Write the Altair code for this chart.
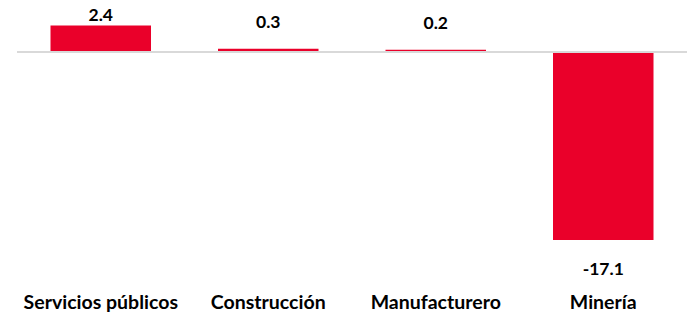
import altair as alt
import pandas as pd

categories = ["Servicios públicos", "Construcción", "Manufacturero", "Minería"]
values = [2.4, 0.3, 0.2, -17.1]

df = pd.DataFrame({"cat": categories, "v": values})
df["lab"] = [f"{v:.1f}" for v in values]

RED = "#EA002A"
FONT = "Lato"
FS = 17.5

xscale = alt.Scale(paddingInner=0.4, paddingOuter=0.2)
yscale = alt.Scale(domain=[-17.1, 3.73], nice=False)

x = alt.X("cat:N", sort=categories, title=None, scale=xscale,
          axis=alt.Axis(domain=False, ticks=False, labelAngle=0, labelFont=FONT,
                        labelFontSize=19.5, labelFontWeight="bold", labelColor="#000000",
                        labelPadding=62, labelBaseline="middle"))
y = alt.Y("v:Q", title=None, scale=yscale, axis=None)

base = alt.Chart(df)

bars = base.mark_bar(color=RED).encode(x=x, y=y)

zero = alt.Chart(pd.DataFrame({"z": [0]})).mark_rule(color="#D9D9D9", strokeWidth=2).encode(
    y=alt.Y("z:Q", scale=yscale, axis=None))

pos_labels = base.transform_filter("datum.v >= 0").transform_calculate(
    ly="min(datum.v, 0.91)").mark_text(
    font=FONT, fontSize=FS, fontWeight="bold", color="#000000", baseline="middle", dy=-26
).encode(x=alt.X("cat:N", sort=categories), y=alt.Y("ly:Q"), text="lab:N")

neg_labels = base.transform_filter("datum.v < 0").mark_text(
    font=FONT, fontSize=FS, fontWeight="bold", color="#000000", baseline="middle", dy=30
).encode(x=alt.X("cat:N", sort=categories), y=alt.Y("v:Q"), text="lab:N")

chart = alt.layer(bars, zero, pos_labels, neg_labels).properties(
    width=670, height=229,
    autosize=alt.AutoSizeParams(type="none"),
    padding={"left": 9, "top": 3, "right": 1, "bottom": 76},
).configure_view(stroke=None)

chart.save("out.html", embed_options={"renderer": "svg", "actions": False})
